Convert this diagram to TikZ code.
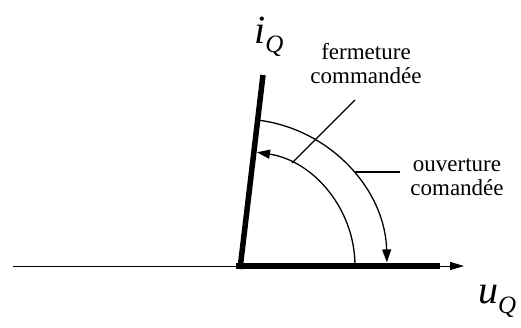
\documentclass[tikz,border=0pt]{standalone}
\usepackage{fontspec}
\setmainfont{Liberation Serif}
\usetikzlibrary{arrows.meta}
\begin{document}
\begin{tikzpicture}[x=1pt,y=-1pt,
  thin axis/.style={line width=1pt},
  thick bar/.style={line width=6.5pt},
  arcline/.style={line width=1.3pt},
  tip/.style={-{Triangle[length=13pt,width=9pt]}},
  lbl/.style={font=\fontsize{23}{24}\selectfont, align=center, inner sep=0pt},
  axlbl/.style={font=\fontsize{40}{40}\selectfont\itshape, inner sep=0pt, anchor=base west}]
\useasboundingbox (0,0) rectangle (521,327);
\coordinate (O) at (240,266);
\coordinate (axL) at (13,266);
\coordinate (axR) at (464,266);
\coordinate (barL) at (236,266);
\coordinate (barR) at (440,266);
\coordinate (vB) at (240,269);
\coordinate (vT) at (263,75);
% axis
\draw[thin axis,-{Triangle[length=14pt,width=8pt]}] (axL) -- (axR);
\draw[thick bar] (barL) -- (barR);
\draw[thick bar,line width=5.5pt] (vB) -- (vT);
% arcs (y axis flipped: visual angle a is written -a)
\draw[arcline,tip] (O) ++(-83:147) arc[start angle=-83,end angle=-1.4,radius=147];
\draw[arcline,tip] (O) ++(0:115) arc[start angle=0,end angle=-81.5,radius=115];
% labels
\node[lbl] (ferm) at (366,64) {fermeture\\commandée};
\node[lbl] (ouv) at (457,177) {ouverture\\comandée};
\node[axlbl] (iQ) at (254,43) {i\raisebox{-9pt}{\fontsize{25}{25}\selectfont Q}};
\node[axlbl] (uQ) at (478,303) {u\raisebox{-10pt}{\fontsize{25}{25}\selectfont Q}};
% leader lines
\coordinate (fA) at (292,163);
\coordinate (fB) at (355,100);
\coordinate (oA) at (355,172);
\coordinate (oB) at (400,172);
\draw[arcline] (fA) -- (fB);
\draw[arcline] (oA) -- (oB);
\end{tikzpicture}
\end{document}
